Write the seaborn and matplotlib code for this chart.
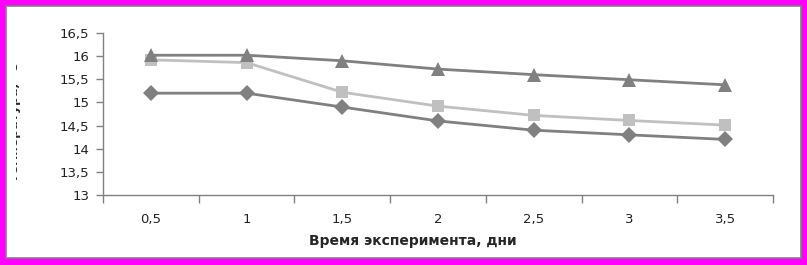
import numpy as np
import pandas as pd
import matplotlib
matplotlib.use("Agg")
import matplotlib.pyplot as plt
import seaborn as sns
from matplotlib.patches import Rectangle
from matplotlib.transforms import Bbox, TransformedBbox

categories = ["0,5", "1", "1,5", "2", "2,5", "3", "3,5"]
series_triangle = [16.02, 16.02, 15.9, 15.72, 15.6, 15.49, 15.38]
series_square = [15.92, 15.86, 15.22, 14.92, 14.72, 14.61, 14.51]
series_diamond = [15.2, 15.2, 14.9, 14.6, 14.4, 14.3, 14.2]
y_ticks = [13, 13.5, 14, 14.5, 15, 15.5, 16, 16.5]
y_tick_labels = ["13", "13,5", "14", "14,5", "15", "15,5", "16", "16,5"]
x_label = "Время эксперимента, дни"
y_label = "Температура, °С"

sns.set_theme(style="white")
plt.rcParams["font.family"] = ["DejaVu Sans"]

W, H = 807, 265
fig = plt.figure(figsize=(W / 100, H / 100), dpi=100, facecolor="#ff00ff")
# white inner panel with gray border
fig.patches.append(Rectangle((6 / W, 7 / H), 795 / W, 252 / H, transform=fig.transFigure,
                             facecolor="white", edgecolor="#808080", linewidth=1.2, zorder=-10))

ax = fig.add_axes([103 / W, (H - 195) / H, (773 - 103) / W, (195 - 33) / H])
ax.set_facecolor("none")
ax.set_zorder(5)

df = pd.DataFrame({
    "x": list(range(len(categories))) * 3,
    "y": series_diamond + series_square + series_triangle,
    "s": ["d"] * 7 + ["s"] * 7 + ["t"] * 7,
})
styles = {"d": ("#808080", "D", 8), "s": ("#c0c0c0", "s", 9), "t": ("#808080", "^", 10)}
for key in ["s", "d", "t"]:
    sub = df[df["s"] == key]
    c, m, ms = styles[key]
    sns.lineplot(data=sub, x="x", y="y", ax=ax, color=c, marker=m, markersize=ms,
                 markeredgewidth=0, linewidth=2, zorder=3 if key != "s" else 2)

ax.set_xlim(-0.5, len(categories) - 0.5)
ax.set_ylim(13, 16.5)
ax.set_yticks(y_ticks)
ax.set_yticklabels(y_tick_labels, fontsize=9.5, color="#222222")
ax.set_xticks(range(len(categories)))
ax.set_xticklabels(categories, fontsize=9.5, color="#222222")
ax.set_xticks(np.arange(-0.5, len(categories)), minor=True)
ax.tick_params(axis="x", which="major", length=0, pad=13)
ax.tick_params(axis="x", which="minor", length=6, width=1, color="#808080", direction="out", bottom=True)
ax.tick_params(axis="y", length=5, width=1, color="#808080", direction="out", left=True, pad=5)
for sp in ["top", "right"]:
    ax.spines[sp].set_visible(False)
for sp in ["left", "bottom"]:
    ax.spines[sp].set_color("#808080")
    ax.spines[sp].set_linewidth(1)
ax.set_xlabel("")
ax.set_ylabel("")
ax.grid(False)

fig.text(413 / W, 1 - 241 / H, x_label, fontsize=10, fontweight="bold",
         ha="center", va="center")

t = fig.text(15 / W, 1 - 122 / H, y_label, rotation=90, fontsize=9, fontweight="bold",
             ha="center", va="center", zorder=6)
t.set_clip_on(True)
t.set_clip_box(TransformedBbox(Bbox([[16 / W, 0], [1, 1]]), fig.transFigure))

fig.savefig("out.png", dpi=100, facecolor=fig.get_facecolor())
